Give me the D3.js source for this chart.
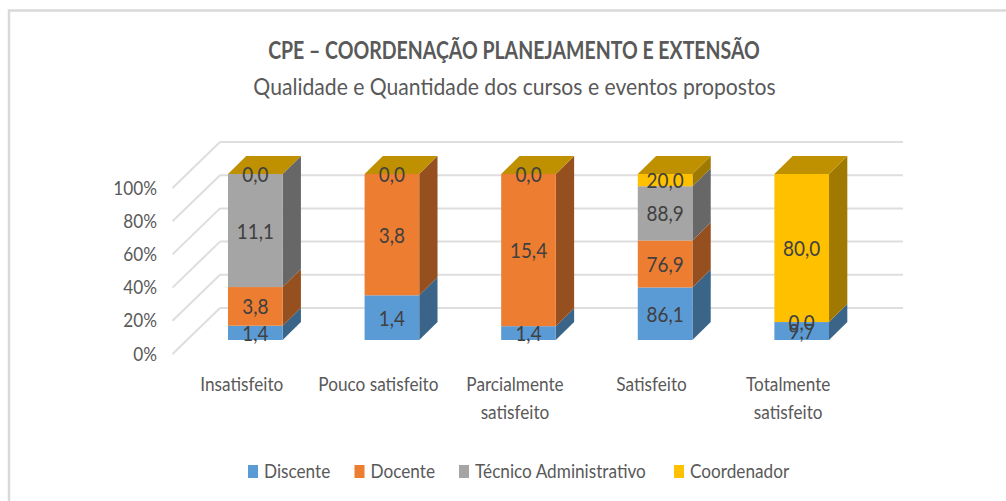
<!DOCTYPE html>
<html><head><meta charset="utf-8">
<script src="https://cdn.jsdelivr.net/npm/d3@7"></script>
<style>html,body{margin:0;background:#fff}svg{display:block}text{font-family:Lato,sans-serif}</style>
</head><body><svg id="c" width="1006" height="501"></svg>
<script>
const categories = ["Insatisfeito","Pouco satisfeito","Parcialmente satisfeito","Satisfeito","Totalmente satisfeito"];
const categoryLines = [["Insatisfeito"],["Pouco satisfeito"],["Parcialmente","satisfeito"],["Satisfeito"],["Totalmente","satisfeito"]];
const seriesNames = ["Discente","Docente","Técnico Administrativo","Coordenador"];
const discente = [1.4,1.4,1.4,86.1,9.7];
const docente = [3.8,3.8,15.4,76.9,0];
const tecnico = [11.1,0,0,88.9,0];
const coordenador = [0,0,0,20,80];
const yTicks = [0,20,40,60,80,100];
const frontColors = ["#5B9BD5","#ED7D31","#A5A5A5","#FFC000"];
const sideColors = ["#3A6589","#96501F","#676767","#A07A00"];
const topColor = "#BF9000";
const values = [discente,docente,tecnico,coordenador];

const svg = d3.select("#c");
svg.append("rect").attr("x",9).attr("y",10.5).attr("width",1100).attr("height",600).attr("fill","#fff").attr("stroke","#D9D9D9").attr("stroke-width",2.5);

const y = d3.scaleLinear().domain([0,1]).range([340,174]);
const x = d3.scaleBand().domain(categories).range([187,870]).paddingInner(0.6).paddingOuter(0.3);
const depth = 18.3;

function label(px,py,s,o){
  const t = svg.append("text")
    .attr("transform",`translate(${px},${py}) scale(${o.sx},1)`)
    .attr("text-anchor",o.anchor||"middle").attr("font-size",o.size).attr("fill",o.fill||"#595959")
    .text(s);
  if(o.bold) t.attr("font-weight","bold");
  return t;
}

const g = svg.append("g");
yTicks.forEach(t=>{
  const yb = y(t/100)-32;
  g.append("line").attr("x1",220).attr("x2",903).attr("y1",yb).attr("y2",yb).attr("stroke","#DEDEDE").attr("stroke-width",2);
  g.append("line").attr("x1",220).attr("x2",172.5).attr("y1",yb).attr("y2",yb+46).attr("stroke","#DEDEDE").attr("stroke-width",2);
  label(157,y(t/100)+14+6.5,t+"%",{sx:0.86,size:20,anchor:"end"});
});

const stack = d3.stack().keys([0,1,2,3]).value((d,k)=>values[k][d]).offset(d3.stackOffsetExpand);
const layers = stack(categories.map((c,i)=>i));
const bw = x.bandwidth();
categories.forEach((c,i)=>{
  const x0=x(c), x1=x0+bw;
  layers.forEach((l,k)=>{
    const [a,b]=l[i];
    if(b-a<=0) return;
    const ya=y(a), yb=y(b);
    g.append("path").attr("fill",sideColors[k]).attr("d",`M${x1},${ya}L${x1+depth},${ya-18}L${x1+depth},${yb-18}L${x1},${yb}Z`);
    g.append("rect").attr("fill",frontColors[k]).attr("x",x0).attr("y",yb).attr("width",bw).attr("height",ya-yb);
  });
  const t=y(1);
  g.append("path").attr("fill",topColor).attr("d",`M${x0},${t}L${x0+depth},${t-18}L${x1+depth},${t-18}L${x1},${t}Z`);
});
categories.forEach((c,i)=>{
  layers.forEach((l,k)=>{
    const [a,b]=l[i];
    if(values[k][i]===0 && !((i<3&&k===3)||(i===4&&k===1))) return;
    label(x(c)+bw/2,(y(a)+y(b))/2+8,values[k][i].toFixed(1).replace(".",","),{sx:0.86,size:22,fill:"#404040"});
  });
  categoryLines[i].forEach((s,j)=>{
    label(x(c)+bw/2-13.5,391+j*28,s,{sx:0.86,size:20});
  });
});
label(514,59,"CPE – COORDENAÇÃO PLANEJAMENTO E EXTENSÃO",{sx:0.765,size:25.5,bold:true});
label(514.5,95,"Qualidade e Quantidade dos cursos e eventos propostos",{sx:0.9,size:23.5});
const legendX=[248,354.5,459,674];
seriesNames.forEach((s,k)=>{
  svg.append("rect").attr("x",legendX[k]).attr("y",465).attr("width",10).attr("height",13).attr("fill",frontColors[k]);
  label(legendX[k]+16,478,s,{sx:0.86,size:20,anchor:"start"});
});
</script></body></html>
